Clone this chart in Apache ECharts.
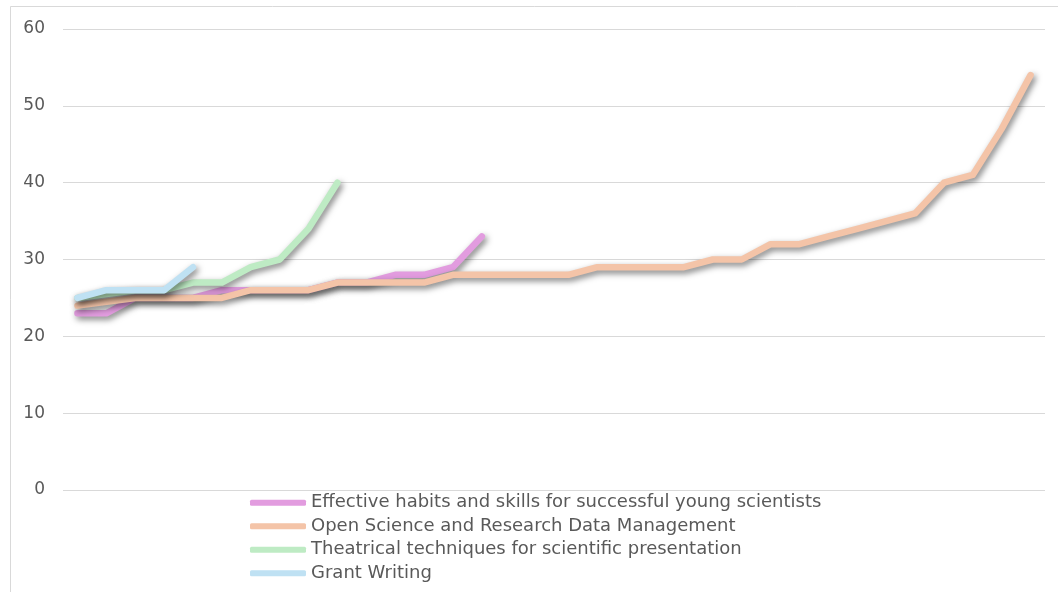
<!DOCTYPE html>
<html>
<head>
<meta charset="utf-8">
<script src="https://cdn.jsdelivr.net/npm/echarts@6/dist/echarts.min.js"></script>
<style>html,body{margin:0;padding:0;background:#fff;}#c{width:1058px;height:592px;}</style>
</head>
<body>
<div id="c"></div>
<script>
const categories = Array.from({length: 34}, (_, i) => String(i + 1));
const seriesNames = [
  'Effective habits and skills for successful young scientists',
  'Open Science and Research Data Management',
  'Theatrical techniques for scientific presentation',
  'Grant Writing'
];
const effectiveHabits = [23, 23, 25, 25, 25, 26, 26, 26, 26, 27, 27, 28, 28, 29, 33];
const openScience = [24, 24.5, 25, 25, 25, 25, 26, 26, 26, 27, 27, 27, 27, 28, 28, 28, 28, 28, 29, 29, 29, 29, 30, 30, 32, 32, 33, 34, 35, 36, 40, 41, 47, 54];
const theatrical = [25, 25.5, 26, 26, 27, 27, 29, 30, 34, 40];
const grantWriting = [25, 26, 26, 26, 29];
const yTicks = [0, 10, 20, 30, 40, 50, 60];

const colors = ['#E29CDF', '#F4C4A8', '#BEEBC4', '#BFE1F3'];
const dataSets = [effectiveHabits, openScience, theatrical, grantWriting];
const font = 'DejaVu Sans, Verdana, sans-serif';

const chart = echarts.init(document.getElementById('c'));
chart.setOption({
  animation: false,
  backgroundColor: '#fff',
  graphic: [{
    type: 'rect', shape: {x: 10.5, y: 6.5, width: 1200, height: 800},
    style: {fill: 'none', stroke: '#D9D9D9', lineWidth: 1}, silent: true, z: -10
  }],
  grid: {left: 63, right: 13, top: 29, bottom: 102},
  xAxis: {
    type: 'category', data: categories, boundaryGap: true,
    axisLine: {show: false}, axisTick: {show: false}, axisLabel: {show: false}
  },
  yAxis: {
    type: 'value', min: yTicks[0], max: yTicks[yTicks.length - 1], interval: 10,
    axisLine: {show: false}, axisTick: {show: false},
    axisLabel: {color: '#595959', fontSize: 17, fontFamily: font, margin: 18},
    splitLine: {lineStyle: {color: '#D9D9D9', width: 1}}
  },
  legend: {
    orient: 'vertical', left: 250, top: 493, itemGap: 4, padding: 0,
    itemWidth: 56, itemHeight: 6, icon: 'roundRect',
    textStyle: {color: '#595959', fontSize: 18, fontFamily: font, lineHeight: 19.5},
    data: seriesNames
  },
  series: dataSets.map((d, i) => ({
    name: seriesNames[i], type: 'line', data: d,
    symbol: 'none', color: colors[i],
    lineStyle: {
      width: 6.5, color: colors[i], cap: 'round', join: 'round',
      shadowColor: 'rgba(0,0,0,0.5)', shadowBlur: 6, shadowOffsetX: 2, shadowOffsetY: 3
    },
    z: 2 + i
  }))
});
</script>
</body>
</html>
